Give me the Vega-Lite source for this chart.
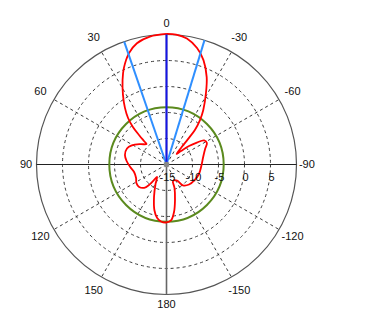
{
  "$schema": "https://vega.github.io/schema/vega-lite/v6.json",
  "width": 333,
  "height": 329,
  "autosize": {"type": "none"},
  "padding": {"left": 0, "top": 0, "right": 37, "bottom": 5},
  "background": "white",
  "config": {"view": {"stroke": null}, "text": {"font": "Liberation Sans", "fontSize": 11, "fill": "#111"}},
  "datasets": {
    "pattern": [
      {"deg": 0, "db": 10.1}, {"deg": 7.4, "db": 9.8}, {"deg": 13.7, "db": 9.0}, {"deg": 18.6, "db": 7.6},
      {"deg": 23.8, "db": 5.3}, {"deg": 27.5, "db": 3.3}, {"deg": 32, "db": 0.8}, {"deg": 36.3, "db": -1.5},
      {"deg": 39.6, "db": -3.4}, {"deg": 41.8, "db": -5.3}, {"deg": 43, "db": -7.3}, {"deg": 43.8, "db": -8.8},
      {"deg": 44.3, "db": -9.5}, {"deg": 52.3, "db": -8.6}, {"deg": 61.2, "db": -7.4}, {"deg": 67.9, "db": -6.8},
      {"deg": 77.1, "db": -6.8}, {"deg": 85, "db": -7.3}, {"deg": 93.9, "db": -8.0}, {"deg": 103, "db": -8.6},
      {"deg": 113.9, "db": -8.6}, {"deg": 121.7, "db": -8.2}, {"deg": 129.3, "db": -8.2}, {"deg": 136.2, "db": -8.8},
      {"deg": 139.5, "db": -9.8}, {"deg": 141.1, "db": -11.2}, {"deg": 142.8, "db": -12.0}, {"deg": 150.6, "db": -10.7},
      {"deg": 159, "db": -8.3}, {"deg": 165.2, "db": -5.9}, {"deg": 169.9, "db": -4.6}, {"deg": 174.5, "db": -4.0},
      {"deg": 179.5, "db": -3.85}, {"deg": 184.6, "db": -4.2}, {"deg": 189, "db": -5.75}, {"deg": 193.5, "db": -8.0},
      {"deg": 198.8, "db": -10.2}, {"deg": 201.5, "db": -11.6}, {"deg": 213.3, "db": -11.3}, {"deg": 218.2, "db": -9.9},
      {"deg": 228.4, "db": -9.2}, {"deg": 241.5, "db": -8.8}, {"deg": 253.7, "db": -8.5}, {"deg": 267.5, "db": -8.3},
      {"deg": 281.6, "db": -7.8}, {"deg": 291.9, "db": -7.0}, {"deg": 298, "db": -6.2}, {"deg": 302.6, "db": -6.4},
      {"deg": 305.8, "db": -7.8}, {"deg": 309.4, "db": -9.4}, {"deg": 313, "db": -11.2}, {"deg": 316.4, "db": -12.2},
      {"deg": 319, "db": -10.6}, {"deg": 319.8, "db": -8.6}, {"deg": 320.6, "db": -6.4}, {"deg": 323, "db": -4.3},
      {"deg": 326, "db": -2.35}, {"deg": 331.1, "db": 0.7}, {"deg": 335.3, "db": 3.5}, {"deg": 340.5, "db": 6.3},
      {"deg": 345.3, "db": 8.15}, {"deg": 350.8, "db": 9.55}, {"deg": 355.8, "db": 10.05}, {"deg": 360, "db": 10.1}
    ],
    "rings": [{"db": -10}, {"db": -5}, {"db": 0}, {"db": 5}],
    "outer": [{"db": 10}],
    "green": [{"db": -4}],
    "spokes": [{"deg": 30}, {"deg": 60}, {"deg": 120}, {"deg": 150}, {"deg": -30}, {"deg": -60}, {"deg": -120}, {"deg": -150}],
    "beams": [{"deg": 19, "db": 10}, {"deg": -17, "db": 10}],
    "peak": [{"deg": 0, "db": 10}],
    "angleLabels": [{"deg": 0}, {"deg": 30}, {"deg": 60}, {"deg": 90}, {"deg": 120}, {"deg": 150}, {"deg": 180}, {"deg": -150}, {"deg": -120}, {"deg": -90}, {"deg": -60}, {"deg": -30}],
    "dbLabels": [{"db": -15}, {"db": -10}, {"db": -5}, {"db": 0}, {"db": 5}]
  },
  "layer": [
    {
      "data": {"name": "rings"},
      "transform": [{"calculate": "datum.db + 15", "as": "r"}, {"calculate": "0", "as": "z"}],
      "mark": {"type": "point", "shape": "circle", "filled": false, "opacity": 1, "stroke": "#3a3a3a", "strokeWidth": 1, "strokeDash": [3, 3]},
      "encoding": {
        "x": {"field": "z", "type": "quantitative", "scale": {"domain": [-32.02, 32.02], "nice": false, "zero": false}, "axis": null},
        "y": {"field": "z", "type": "quantitative", "scale": {"domain": [-31.63, 31.63], "nice": false, "zero": false}, "axis": null},
        "size": {"field": "r", "type": "quantitative", "scale": {"type": "pow", "exponent": 2, "domain": [0, 25], "range": [0, 67600], "zero": true}, "legend": null}
      }
    },
    {
      "data": {"name": "outer"},
      "transform": [{"calculate": "datum.db + 15", "as": "r"}, {"calculate": "0", "as": "z"}],
      "mark": {"type": "point", "shape": "circle", "filled": false, "opacity": 1, "stroke": "#555555", "strokeWidth": 1.2},
      "encoding": {
        "x": {"field": "z", "type": "quantitative", "scale": {"domain": [-32.02, 32.02], "nice": false, "zero": false}, "axis": null},
        "y": {"field": "z", "type": "quantitative", "scale": {"domain": [-31.63, 31.63], "nice": false, "zero": false}, "axis": null},
        "size": {"field": "r", "type": "quantitative", "scale": {"type": "pow", "exponent": 2, "domain": [0, 25], "range": [0, 67600], "zero": true}, "legend": null}
      }
    },
    {
      "data": {"name": "spokes"},
      "transform": [
        {"calculate": "0", "as": "z"},
        {"calculate": "-25*sin(datum.deg*PI/180)", "as": "x2"},
        {"calculate": "25*cos(datum.deg*PI/180)", "as": "y2"}
      ],
      "mark": {"type": "rule", "stroke": "#3a3a3a", "strokeWidth": 1, "strokeDash": [3, 3]},
      "encoding": {
        "x": {"field": "z", "type": "quantitative", "scale": {"domain": [-32.02, 32.02], "nice": false, "zero": false}, "axis": null},
        "y": {"field": "z", "type": "quantitative", "scale": {"domain": [-31.63, 31.63], "nice": false, "zero": false}, "axis": null},
        "x2": {"field": "x2"},
        "y2": {"field": "y2"}
      }
    },
    {
      "data": {"values": [{"deg": 90}]},
      "transform": [
        {"calculate": "-25*sin(datum.deg*PI/180)", "as": "xa"},
        {"calculate": "25*cos(datum.deg*PI/180)", "as": "ya"},
        {"calculate": "25*sin(datum.deg*PI/180)", "as": "xb"},
        {"calculate": "-25*cos(datum.deg*PI/180)", "as": "yb"}
      ],
      "mark": {"type": "rule", "stroke": "#222222", "strokeWidth": 1.2},
      "encoding": {
        "x": {"field": "xa", "type": "quantitative", "scale": {"domain": [-32.02, 32.02], "nice": false, "zero": false}, "axis": null},
        "y": {"field": "ya", "type": "quantitative", "scale": {"domain": [-31.63, 31.63], "nice": false, "zero": false}, "axis": null},
        "x2": {"field": "xb"},
        "y2": {"field": "yb"}
      }
    },
    {
      "data": {"values": [{"deg": 0}]},
      "transform": [
        {"calculate": "-25*sin(datum.deg*PI/180)", "as": "xa"},
        {"calculate": "25*cos(datum.deg*PI/180)", "as": "ya"},
        {"calculate": "25*sin(datum.deg*PI/180)", "as": "xb"},
        {"calculate": "-25*cos(datum.deg*PI/180)", "as": "yb"}
      ],
      "mark": {"type": "rule", "stroke": "#666666", "strokeWidth": 1.6},
      "encoding": {
        "x": {"field": "xa", "type": "quantitative", "scale": {"domain": [-32.02, 32.02], "nice": false, "zero": false}, "axis": null},
        "y": {"field": "ya", "type": "quantitative", "scale": {"domain": [-31.63, 31.63], "nice": false, "zero": false}, "axis": null},
        "x2": {"field": "xb"},
        "y2": {"field": "yb"}
      }
    },
    {
      "data": {"name": "green"},
      "transform": [{"calculate": "datum.db + 15", "as": "r"}, {"calculate": "0", "as": "z"}],
      "mark": {"type": "point", "shape": "circle", "filled": false, "opacity": 1, "stroke": "#5b8a1e", "strokeWidth": 2},
      "encoding": {
        "x": {"field": "z", "type": "quantitative", "scale": {"domain": [-32.02, 32.02], "nice": false, "zero": false}, "axis": null},
        "y": {"field": "z", "type": "quantitative", "scale": {"domain": [-31.63, 31.63], "nice": false, "zero": false}, "axis": null},
        "size": {"field": "r", "type": "quantitative", "scale": {"type": "pow", "exponent": 2, "domain": [0, 25], "range": [0, 67600], "zero": true}, "legend": null}
      }
    },
    {
      "data": {"name": "pattern"},
      "transform": [
        {"calculate": "-(datum.db+15)*sin(datum.deg*PI/180)", "as": "x"},
        {"calculate": "(datum.db+15)*cos(datum.deg*PI/180)", "as": "y"}
      ],
      "mark": {"type": "line", "stroke": "#ff0000", "strokeWidth": 1.8, "interpolate": "catmull-rom"},
      "encoding": {
        "x": {"field": "x", "type": "quantitative", "scale": {"domain": [-32.02, 32.02], "nice": false, "zero": false}, "axis": null},
        "y": {"field": "y", "type": "quantitative", "scale": {"domain": [-31.63, 31.63], "nice": false, "zero": false}, "axis": null},
        "order": {"field": "deg", "type": "quantitative"}
      }
    },
    {
      "data": {"name": "beams"},
      "transform": [
        {"calculate": "0", "as": "z"},
        {"calculate": "-(datum.db+15)*sin(datum.deg*PI/180)", "as": "x2"},
        {"calculate": "(datum.db+15)*cos(datum.deg*PI/180)", "as": "y2"}
      ],
      "mark": {"type": "rule", "stroke": "#2f8fff", "strokeWidth": 2},
      "encoding": {
        "x": {"field": "z", "type": "quantitative", "scale": {"domain": [-32.02, 32.02], "nice": false, "zero": false}, "axis": null},
        "y": {"field": "z", "type": "quantitative", "scale": {"domain": [-31.63, 31.63], "nice": false, "zero": false}, "axis": null},
        "x2": {"field": "x2"},
        "y2": {"field": "y2"}
      }
    },
    {
      "data": {"name": "peak"},
      "transform": [
        {"calculate": "0", "as": "z"},
        {"calculate": "-(datum.db+15)*sin(datum.deg*PI/180)", "as": "x2"},
        {"calculate": "(datum.db+15)*cos(datum.deg*PI/180)", "as": "y2"}
      ],
      "mark": {"type": "rule", "stroke": "#1414e6", "strokeWidth": 2},
      "encoding": {
        "x": {"field": "z", "type": "quantitative", "scale": {"domain": [-32.02, 32.02], "nice": false, "zero": false}, "axis": null},
        "y": {"field": "z", "type": "quantitative", "scale": {"domain": [-31.63, 31.63], "nice": false, "zero": false}, "axis": null},
        "x2": {"field": "x2"},
        "y2": {"field": "y2"}
      }
    },
    {
      "data": {"values": [{"k": "c"}]},
      "transform": [{"calculate": "0", "as": "z"}],
      "mark": {"type": "point", "shape": "circle", "filled": true, "color": "#888888", "size": 30, "opacity": 1},
      "encoding": {
        "x": {"field": "z", "type": "quantitative", "scale": {"domain": [-32.02, 32.02], "nice": false, "zero": false}, "axis": null},
        "y": {"field": "z", "type": "quantitative", "scale": {"domain": [-31.63, 31.63], "nice": false, "zero": false}, "axis": null}
      }
    },
    {
      "data": {"name": "angleLabels"},
      "transform": [
        {"calculate": "27 + 1.15*abs(sin(2*datum.deg*PI/180))", "as": "rr"},
        {"calculate": "-datum.rr*sin(datum.deg*PI/180)", "as": "x"},
        {"calculate": "datum.rr*cos(datum.deg*PI/180)", "as": "y"}
      ],
      "mark": {"type": "text", "align": "center", "baseline": "middle"},
      "encoding": {
        "x": {"field": "x", "type": "quantitative", "scale": {"domain": [-32.02, 32.02], "nice": false, "zero": false}, "axis": null},
        "y": {"field": "y", "type": "quantitative", "scale": {"domain": [-31.63, 31.63], "nice": false, "zero": false}, "axis": null},
        "text": {"field": "deg", "type": "nominal"}
      }
    },
    {
      "data": {"name": "dbLabels"},
      "transform": [{"calculate": "datum.db + 15", "as": "x"}, {"calculate": "0", "as": "z"}],
      "mark": {"type": "text", "align": "center", "baseline": "middle", "dy": 13.5, "dx": 1},
      "encoding": {
        "x": {"field": "x", "type": "quantitative", "scale": {"domain": [-32.02, 32.02], "nice": false, "zero": false}, "axis": null},
        "y": {"field": "z", "type": "quantitative", "scale": {"domain": [-31.63, 31.63], "nice": false, "zero": false}, "axis": null},
        "text": {"field": "db", "type": "nominal"}
      }
    }
  ]
}
